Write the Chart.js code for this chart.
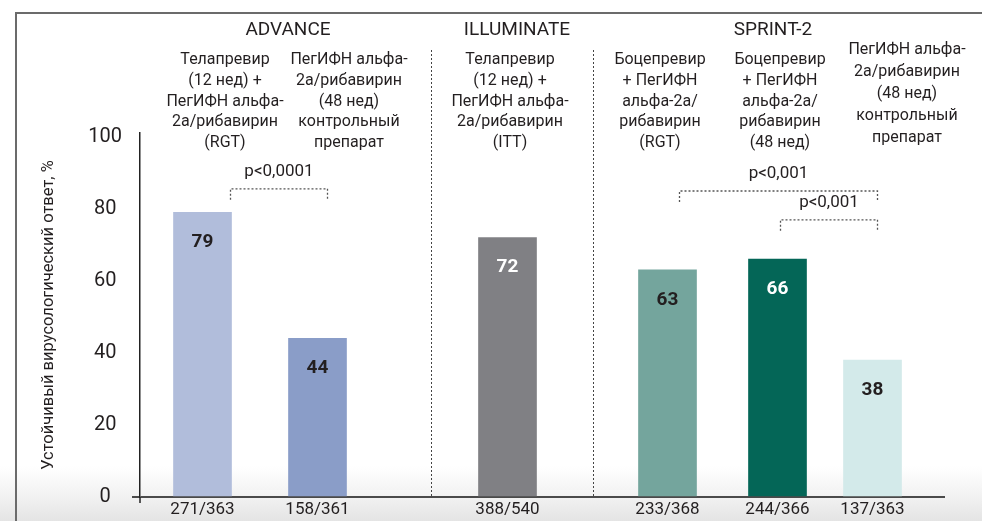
<!DOCTYPE html>
<html>
<head>
<meta charset="utf-8">
<script src="https://cdn.jsdelivr.net/npm/chart.js@4.4.1/dist/chart.umd.min.js"></script>
<style>
  html, body { margin: 0; padding: 0; background: #fff; }
  canvas { display: block; }
</style>
</head>
<body>
<canvas id="svrChart" width="982" height="521"></canvas>
<script>
// Данные
const studies = ['ADVANCE', 'ILLUMINATE', 'SPRINT-2'];
const armStudy = [0, 0, 1, 2, 2, 2];
const armNames = [
    ['Телапревир', '(12 нед) +', 'ПегИФН альфа-', '2а/рибавирин', '(RGT)'],
    ['ПегИФН альфа-', '2а/рибавирин', '(48 нед)', 'контрольный', 'препарат'],
    ['Телапревир', '(12 нед) +', 'ПегИФН альфа-', '2а/рибавирин', '(ITT)'],
    ['Боцепревир', '+ ПегИФН', 'альфа-2а/', 'рибавирин', '(RGT)'],
    ['Боцепревир', '+ ПегИФН', 'альфа-2а/', 'рибавирин', '(48 нед)'],
    ['ПегИФН альфа-', '2а/рибавирин', '(48 нед)', 'контрольный', 'препарат']
];
const svrRates = [79, 44, 72, 63, 66, 38];
const patientCounts = ['271/363', '158/361', '388/540', '233/368', '244/366', '137/363'];
const yTicks = [0, 20, 40, 60, 80, 100];
const yTitle = 'Устойчивый вирусологический ответ, %';
const pValues = ['p<0,0001', 'p<0,001', 'p<0,001'];

// Раскладка и стиль (позиции в единицах слотов категориальной оси)
const slotCount = 161;
const barSlots = [12, 35, 73, 105, 127, 146];
const barColors = ['#b1bddb', '#8a9dc8', '#808084', '#74a59d', '#046657', '#d3eaea'];
const valueColors = ['#231f20', '#231f20', '#ffffff', '#231f20', '#ffffff', '#231f20'];
const studyTitleSlots = [29.1, 74.9, 126.1];
const armTextSlots = [16.5, 41.3, 73.5, 103.5, 127.5, 152.9];
const armTextTop = [60, 60, 60, 60, 60, 50];
const armLineHeight = [20.8, 20.8, 20.8, 20.8, 20.8, 22];
const separatorSlots = [57.7, 90.1];
const brackets = [
    { from: 17.6, to: 37, level: 85.5 },
    { from: 107.4, to: 147, level: 84.9 },
    { from: 127.6, to: 147, level: 76.9 }
];

const FONT = "Roboto, 'DejaVu Sans Condensed', sans-serif";
const TEXT = '#231f20';

// таблица для категориальной оси
const xLabels = Array(slotCount).fill('');
const xValues = Array(slotCount).fill(null);
const xColors = Array(slotCount).fill('transparent');
barSlots.forEach((s, i) => {
    xLabels[s] = patientCounts[i];
    xValues[s] = svrRates[i];
    xColors[s] = barColors[i];
});

const decorPlugin = {
    id: 'decor',
    beforeDraw(chart) {
        const { ctx, width, height } = chart;
        ctx.save();
        ctx.fillStyle = '#ffffff';
        ctx.fillRect(0, 0, width, height);
        const g = ctx.createLinearGradient(0, 466, 0, height);
        g.addColorStop(0, 'rgba(233,233,233,0)');
        g.addColorStop(1, 'rgba(228,228,228,1)');
        ctx.fillStyle = g;
        ctx.fillRect(0, 466, width, height - 466);
        // рамка
        ctx.strokeStyle = '#6b6b6b';
        ctx.lineWidth = 2;
        ctx.beginPath();
        ctx.moveTo(16, height);
        ctx.lineTo(16, 13);
        ctx.lineTo(width, 13);
        ctx.stroke();
        ctx.restore();
    },
    afterDraw(chart) {
        const { ctx } = chart;
        const x = chart.scales.x;
        const y = chart.scales.y;
        const meta = chart.getDatasetMeta(0);
        ctx.save();

        // разделители исследований
        ctx.strokeStyle = '#444';
        ctx.lineWidth = 1;
        ctx.setLineDash([2, 2]);
        separatorSlots.forEach(s => {
            const px = Math.round(x.getPixelForValue(s)) + 0.5;
            ctx.beginPath();
            ctx.moveTo(px, 50);
            ctx.lineTo(px, y.bottom);
            ctx.stroke();
        });

        // скобки p
        ctx.strokeStyle = '#555';
        ctx.lineWidth = 1.3;
        brackets.forEach((b, i) => {
            const x1 = x.getPixelForValue(b.from);
            const x2 = x.getPixelForValue(b.to);
            const yl = y.getPixelForValue(b.level);
            ctx.beginPath();
            ctx.moveTo(x1, yl + 11);
            ctx.lineTo(x1, yl);
            ctx.lineTo(x2, yl);
            ctx.lineTo(x2, yl + 11);
            ctx.stroke();
            ctx.fillStyle = TEXT;
            ctx.font = '17px ' + FONT;
            ctx.textAlign = 'center';
            ctx.textBaseline = 'middle';
            ctx.fillText(pValues[i], (x1 + x2) / 2, yl - 17);
        });
        ctx.setLineDash([]);

        // хвостик оси Y под осью X
        ctx.strokeStyle = '#222';
        ctx.lineWidth = 1.5;
        ctx.beginPath();
        ctx.moveTo(y.right, y.bottom);
        ctx.lineTo(y.right, y.bottom + 6);
        ctx.stroke();

        // заголовки
        ctx.fillStyle = TEXT;
        ctx.textAlign = 'center';
        ctx.textBaseline = 'middle';
        ctx.font = '19px ' + FONT;
        studies.forEach((s, i) => ctx.fillText(s, x.getPixelForValue(studyTitleSlots[i]), 30));
        ctx.font = '16px ' + FONT;
        armNames.forEach((lines, i) => {
            const cx = x.getPixelForValue(armTextSlots[i]);
            lines.forEach((t, j) => ctx.fillText(t, cx, armTextTop[i] + j * armLineHeight[i]));
        });

        // значения в столбиках
        ctx.font = 'bold 19px ' + FONT;
        barSlots.forEach((s, i) => {
            const bar = meta.data[s];
            ctx.fillStyle = valueColors[i];
            ctx.fillText(String(svrRates[i]), bar.x, bar.y + 30);
        });
        ctx.restore();
    }
};

new Chart(document.getElementById('svrChart').getContext('2d'), {
    type: 'bar',
    data: {
        labels: xLabels,
        datasets: [{
            data: xValues,
            backgroundColor: xColors,
            barThickness: 58,
            borderWidth: 0
        }]
    },
    options: {
        responsive: false,
        animation: false,
        devicePixelRatio: 1,
        layout: { padding: { left: 30, right: 37, top: 133, bottom: 0 } },
        plugins: {
            legend: { display: false },
            tooltip: { enabled: false }
        },
        scales: {
            x: {
                grid: { display: false, drawTicks: false },
                border: { display: false },
                ticks: {
                    autoSkip: false,
                    maxRotation: 0,
                    minRotation: 0,
                    padding: 3,
                    color: TEXT,
                    font: { size: 17, family: FONT }
                },
                afterFit: s => { s.height = 24; }
            },
            y: {
                min: 0,
                max: 101,
                afterBuildTicks: s => { s.ticks = yTicks.map(v => ({ value: v })); },
                grid: {
                    color: c => (c.tick && c.tick.value === 0 ? '#4a4a4a' : 'transparent'),
                    lineWidth: 2,
                    tickLength: 8,
                    drawTicks: true
                },
                border: { display: true, color: '#222', width: 1.5 },
                ticks: {
                    crossAlign: 'center',
                    padding: 10,
                    color: TEXT,
                    font: { size: 20, family: FONT }
                },
                title: {
                    display: true,
                    text: yTitle,
                    color: TEXT,
                    padding: { top: 9, bottom: 0 },
                    font: { size: 16.5, family: FONT }
                },
                afterFit: s => { s.width = 110; }
            }
        }
    },
    plugins: [decorPlugin]
});
</script>
</body>
</html>
